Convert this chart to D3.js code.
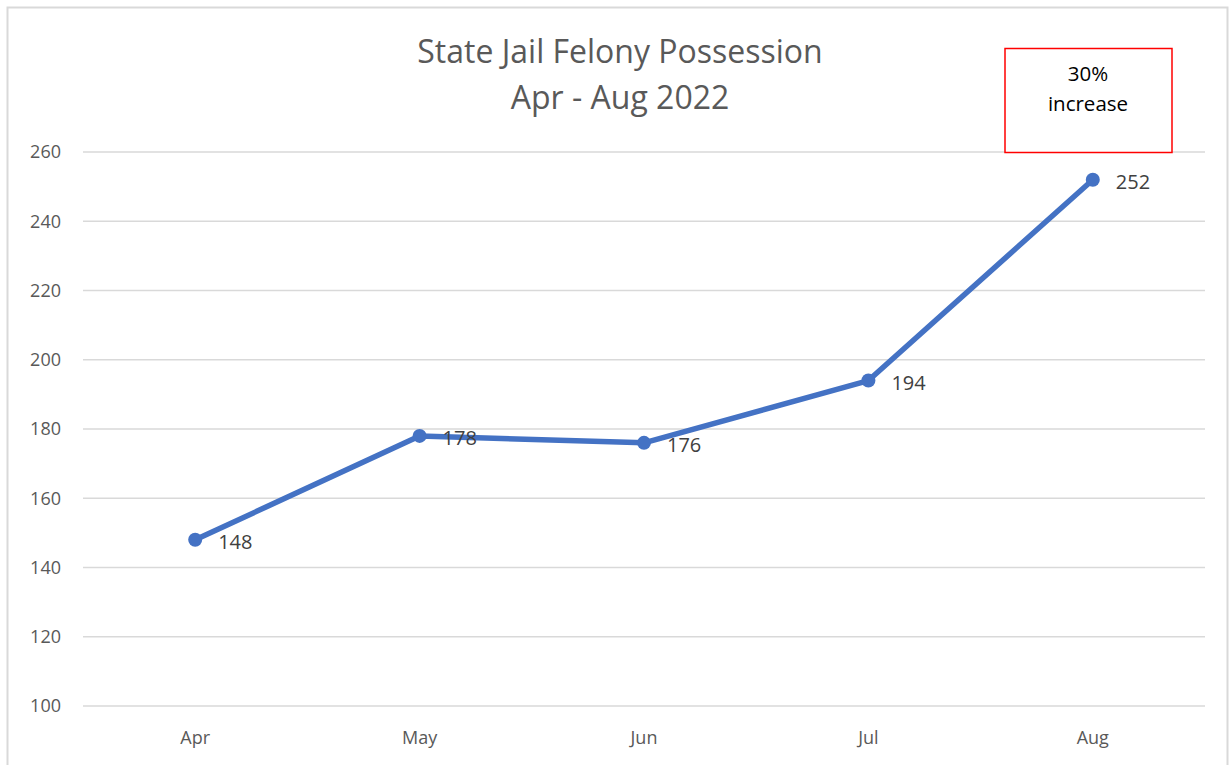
<!DOCTYPE html>
<html>
<head>
<meta charset="utf-8">
<script src="https://cdn.jsdelivr.net/npm/d3@7"></script>
<style>
  body { margin: 0; background: #fff; }
  text { font-family: "Open Sans", "Liberation Sans", sans-serif; }
</style>
</head>
<body>
<svg width="1230" height="765"></svg>
<script>
const months = ['Apr', 'May', 'Jun', 'Jul', 'Aug'];
const counts = [148, 178, 176, 194, 252];
const yTicks = [100, 120, 140, 160, 180, 200, 220, 240, 260];
const titleLines = ['State Jail Felony Possession', 'Apr - Aug 2022'];
const noteLines = ['30%', 'increase'];

const svg = d3.select('svg');
const plotLeft = 83, plotRight = 1205, plotTop = 152, plotBottom = 706;

// outer chart border
svg.append('rect')
  .attr('x', 7.5).attr('y', 7.5)
  .attr('width', 1220).attr('height', 770)
  .attr('fill', 'none').attr('stroke', '#d9d9d9').attr('stroke-width', 2);

const x = d3.scaleBand().domain(months).range([plotLeft, plotRight]);
const y = d3.scaleLinear().domain([100, 260]).range([plotBottom, plotTop]);

// gridlines
svg.append('g').selectAll('line').data(yTicks).enter().append('line')
  .attr('x1', plotLeft).attr('x2', plotRight)
  .attr('y1', d => y(d)).attr('y2', d => y(d))
  .attr('stroke', '#d9d9d9').attr('stroke-width', 1.5);

// y labels
svg.append('g').selectAll('text').data(yTicks).enter().append('text')
  .attr('x', 61).attr('y', d => y(d))
  .attr('dy', '0.35em')
  .attr('text-anchor', 'end')
  .attr('font-size', 18).attr('fill', '#595959')
  .text(d => d);

// x labels
svg.append('g').selectAll('text').data(months).enter().append('text')
  .attr('x', d => x(d) + x.bandwidth() / 2).attr('y', 744)
  .attr('text-anchor', 'middle')
  .attr('font-size', 18).attr('fill', '#595959')
  .text(d => d);

// title
svg.append('g').selectAll('text').data(titleLines).enter().append('text')
  .attr('x', 620).attr('y', (d, i) => 63 + i * 46)
  .attr('text-anchor', 'middle')
  .attr('font-size', 32).attr('fill', '#595959')
  .text(d => d);

const cx = (d, i) => x(months[i]) + x.bandwidth() / 2;

const line = d3.line().x(cx).y(d => y(d));
svg.append('path').datum(counts)
  .attr('d', line)
  .attr('fill', 'none').attr('stroke', '#4472c4')
  .attr('stroke-width', 5.5).attr('stroke-linejoin', 'round');

svg.append('g').selectAll('circle').data(counts).enter().append('circle')
  .attr('cx', cx).attr('cy', d => y(d)).attr('r', 7)
  .attr('fill', '#4472c4');

// data labels
svg.append('g').selectAll('text').data(counts).enter().append('text')
  .attr('x', (d, i) => cx(d, i) + 23).attr('y', d => y(d) + 2)
  .attr('dy', '0.35em')
  .attr('font-size', 20).attr('fill', '#404040')
  .text(d => d);

// annotation box
svg.append('rect')
  .attr('x', 1005).attr('y', 48.5)
  .attr('width', 167).attr('height', 104)
  .attr('fill', '#fff').attr('stroke', '#ff0000').attr('stroke-width', 1.5);

svg.append('g').selectAll('text').data(noteLines).enter().append('text')
  .attr('x', 1088).attr('y', (d, i) => 81 + i * 30)
  .attr('text-anchor', 'middle')
  .attr('font-size', 20.5).attr('fill', '#000')
  .text(d => d);
</script>
</body>
</html>
